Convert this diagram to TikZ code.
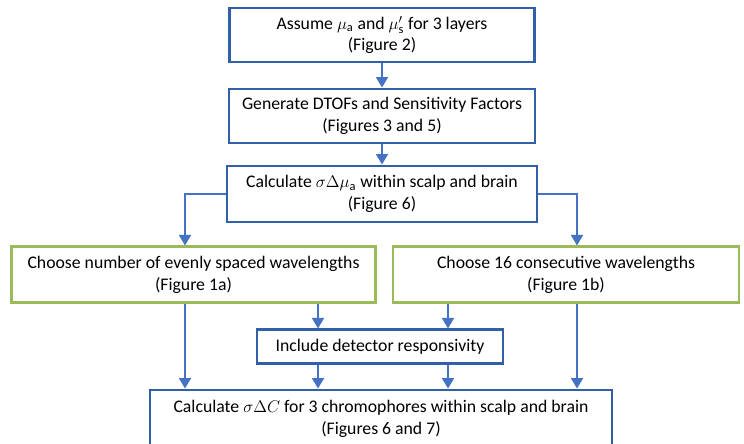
\documentclass[tikz,border=0pt]{standalone}
\usepackage{fontspec}
\setmainfont{Carlito}
\usetikzlibrary{arrows.meta, positioning}
\definecolor{boxblue}{RGB}{50,96,166}
\definecolor{lineblue}{RGB}{68,114,196}
\definecolor{boxgreen}{RGB}{155,187,89}

\begin{document}
\begin{tikzpicture}[
        x=0.025cm, y=-0.025cm,
        every node/.style={font=\fontsize{12.6}{15.5}\selectfont},
        stepbox/.style={rectangle, draw=boxblue, line width=2pt, align=center, inner sep=0pt},
        choice/.style={stepbox, draw=boxgreen},
        line/.style={draw=lineblue, line width=1.5pt, -{Triangle[width=8.5pt,length=7.5pt]}}
    ]
        \useasboundingbox (0,0) rectangle (744,444);

        \node[stepbox, minimum width=7.63cm, minimum height=1.35cm] (assume) at (382,35) {Assume $\mu_\mathrm{a}$ and $\mu'_\mathrm{s}$ for 3 layers\\(Figure 2)};
        \node[stepbox, minimum width=7.65cm, minimum height=1.35cm] (dtof) at (382,116) {Generate DTOFs and Sensitivity Factors\\(Figures 3 and 5)};
        \node[stepbox, minimum width=7.75cm, minimum height=1.4cm] (calcmu) at (382,194) {Calculate $\sigma\Delta\mu_\mathrm{a}$ within scalp and brain\\(Figure 6)};
        \node[choice, minimum width=9.08cm, minimum height=1.38cm] (evenly) at (193.5,274.5) {Choose number of evenly spaced wavelengths\\(Figure 1a)};
        \node[choice, minimum width=8.65cm, minimum height=1.38cm] (consec) at (566,274.5) {Choose 16 consecutive wavelengths\\(Figure 1b)};
        \node[stepbox, minimum width=6.15cm, minimum height=0.83cm] (detector) at (380,346.5) {Include detector responsivity};
        \node[stepbox, minimum width=11.55cm, minimum height=1.45cm] (calcc) at (381,419) {Calculate $\sigma\Delta C$ for 3 chromophores within scalp and brain\\(Figures 6 and 7)};

        \coordinate (xa) at (185,0);
        \coordinate (xb) at (318,0);
        \coordinate (xc) at (448,0);
        \coordinate (xd) at (577,0);

        \draw[line] (assume) -- (dtof);
        \draw[line] (dtof) -- (calcmu);
        \draw[line] (calcmu.west) -| (evenly.north -| xa);
        \draw[line] (calcmu.east) -| (consec.north -| xd);
        \draw[line] (evenly.south -| xb) -- (detector.north -| xb);
        \draw[line] (consec.south -| xc) -- (detector.north -| xc);
        \draw[line] (evenly.south -| xa) -- (calcc.north -| xa);
        \draw[line] (consec.south -| xd) -- (calcc.north -| xd);
        \draw[line] (detector.south -| xb) -- (calcc.north -| xb);
        \draw[line] (detector.south -| xc) -- (calcc.north -| xc);

    \end{tikzpicture}
\end{document}
